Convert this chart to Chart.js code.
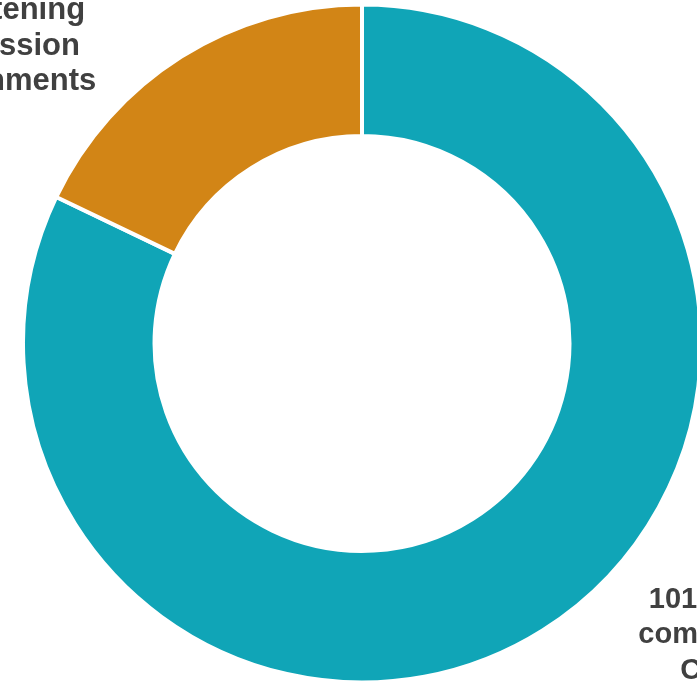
<!DOCTYPE html>
<html><head><meta charset="utf-8">
<script src="https://cdn.jsdelivr.net/npm/chart.js@4/dist/chart.umd.min.js"></script>
<style>
html,body{margin:0;padding:0;background:#fff;overflow:hidden;width:697px;height:682px;}
#wrap{position:absolute;left:0;top:0;width:724px;height:687px;}
</style></head><body>
<div id="wrap"><canvas id="c"></canvas></div>
<script>
// Data
const categories = ["101 national commitments Climate", "Threatening Expression Governments"];
const labelLines = [["101 national", "commitments", "Climate"], ["Threatening", "Expression", "Governments"]];
const values = [101, 22];
const sliceColors = ["#10A5B7", "#D28516"];

const outsideLabels = {
  id: 'outsideLabels',
  afterDatasetsDraw(chart, args, opts) {
    const ctx = chart.ctx;
    const meta = chart.getDatasetMeta(0);
    ctx.save();
    ctx.fillStyle = opts.color;
    ctx.textAlign = 'center';
    ctx.textBaseline = 'alphabetic';
    meta.data.forEach((arc, i) => {
      const p = arc.getProps(['x', 'y', 'startAngle', 'endAngle', 'outerRadius'], true);
      const mid = (p.startAngle + p.endAngle) / 2;
      const px = p.x + Math.cos(mid) * p.outerRadius;
      const py = p.y + Math.sin(mid) * p.outerRadius;
      const off = opts.offsets[i];
      const lines = labelLines[i];
      const cx = px + off[0];
      const cy = py + off[1];
      ctx.font = 'bold ' + opts.sizes[i] + 'px "Liberation Sans", Arial, sans-serif';
      lines.forEach((t, j) => {
        ctx.fillText(t, cx, cy + (j - (lines.length - 1) / 2) * opts.lineHeight);
      });
    });
    ctx.restore();
  }
};

new Chart(document.getElementById('c'), {
  type: 'doughnut',
  data: {
    labels: categories,
    datasets: [{
      data: values,
      backgroundColor: sliceColors,
      borderColor: '#ffffff',
      borderWidth: 4,
      hoverOffset: 0
    }]
  },
  options: {
    responsive: true,
    maintainAspectRatio: false,
    animation: false,
    cutout: '61.2%',
    layout: { padding: { left: 21, right: 21, top: 2.5, bottom: 2.5 } },
    plugins: {
      legend: { display: false },
      tooltip: { enabled: false },
      outsideLabels: {
        color: '#404040',
        lineHeight: 35.5,
        sizes: [29, 31],
        offsets: [[190, 13], [-185, -2]]
      }
    }
  },
  plugins: [outsideLabels]
});
</script>
</body></html>
